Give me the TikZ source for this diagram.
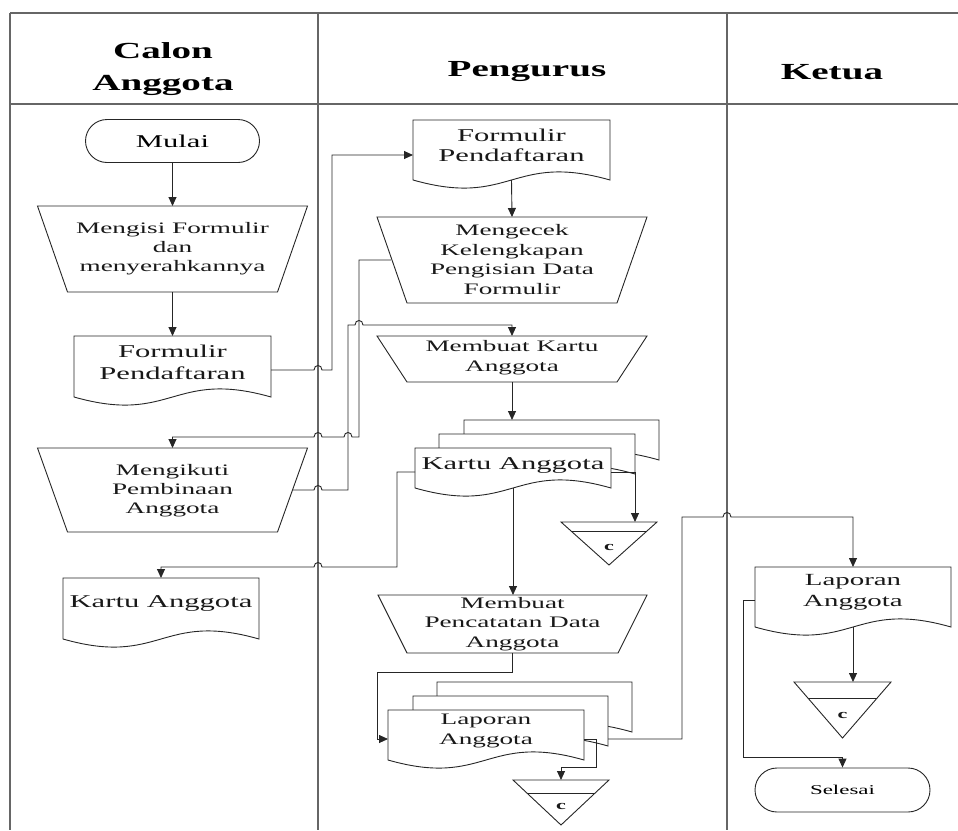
\documentclass[tikz,border=0pt]{standalone}
\usepackage{fontspec}
\setmainfont{Liberation Serif}[FakeStretch=1.7]
\usetikzlibrary{shapes.misc,arrows.meta}

\newcommand\fs[2]{\fontsize{#1}{#2}\selectfont}

% document shape: name, x1, top, x2, bottom corner
\newcommand\mkdoc[5]{%
  \path[shp] (#2,#3) -- (#4,#3) -- (#4,#5) .. controls ({(#2+#4)/2},{#5-28}) and ({(#2+#4)/2},{#5+28}) .. (#2,#5) -- cycle;
  \node[anchorbox, minimum width={#4-#2}, minimum height={#5-#3}] (#1) at ({(#2+#4)/2},{(#3+#5)/2}) {};
}
% manual operation: name, xc, top, bottom, top width, inset
\newcommand\mkmanop[6]{%
  \node[anchorbox, minimum width=#5, minimum height={#4-#3}] (#1) at (#2,{(#3+#4)/2}) {};
  \path[shp] (#1.north west) -- (#1.north east) -- ([xshift=-#6]#1.south east) -- ([xshift=#6]#1.south west) -- cycle;
}
% off-page connector: name, xc, top, apex, half width, inner line y
\newcommand\mkoff[6]{%
  \path[shp] ({#2-#5},#3) -- ({#2+#5},#3) -- (#2,#4) -- cycle;
  \draw[conn] ({#2-#5*(1-(#6-#3)/(#4-#3))},#6) -- ({#2+#5*(1-(#6-#3)/(#4-#3))},#6);
  \node[anchorbox, minimum width={2*#5}, minimum height={#4-#3}] (#1) at (#2,{(#3+#4)/2}) {};
}

\tikzset{
  frame/.style={draw=black!60, line width=1.4pt},
  shp/.style={draw=black!85, line width=0.9pt, fill=white},
  conn/.style={draw=black!85, line width=0.9pt},
  arr/.style={conn, -{Triangle[length=9pt,width=8pt]}},
  anchorbox/.style={inner sep=0pt, outer sep=0pt, draw=none, rectangle},
  txt/.style={align=center, inner sep=0pt, text=black!90},
  hdr/.style={align=center, inner sep=0pt, font=\fs{23}{32}\bfseries},
  hopr/.style args={#1/#2}{insert path={-- ({#1-4},#2) .. controls ({#1-4},{#2-6}) and ({#1+4},{#2-6}) .. ({#1+4},#2)}},
  hopl/.style args={#1/#2}{insert path={-- ({#1+4},#2) .. controls ({#1+4},{#2-6}) and ({#1-4},{#2-6}) .. ({#1-4},#2)}},
}

\begin{document}
\begin{tikzpicture}[x=1pt,y=-1pt]
\useasboundingbox (0,0) rectangle (958,830);

% frame
\draw[frame] (10,13) -- (958,13);
\draw[frame] (10,104) -- (958,104);
\draw[frame] (10,13) -- (10,830);
\draw[frame] (318,13) -- (318,830);
\draw[frame] (727,13) -- (727,830);

\node[hdr] (h1) at (163,69) {Calon\\Anggota};
\node[hdr] (h2) at (527,72) {Pengurus};
\node[hdr] (h3) at (832,72) {Ketua};

% ---- Calon Anggota lane
\node[shp, rounded rectangle, minimum width=174, minimum height=43, inner sep=0pt, font=\fs{18}{22}] (mulai) at (172.5,141) {Mulai};
\mkmanop{mg}{172.5}{206}{292}{270}{30}
\node[txt, font=\fs{16}{19}] (mg-t) at (172.5,249) {Mengisi Formulir\\dan\\menyerahkannya};
\mkdoc{f1}{74}{336}{271}{397}
\node[txt, font=\fs{18}{22}] (f1-t) at (172.5,362) {Formulir\\Pendaftaran};
\mkmanop{mi}{172.5}{448}{532}{270}{30}
\node[txt, font=\fs{16}{19}] (mi-t) at (172.5,491) {Mengikuti\\Pembinaan\\Anggota};
\mkdoc{k1}{63}{578}{259}{639}
\node[txt, font=\fs{18}{22}] (k1-t) at (161,603) {Kartu Anggota};

% ---- Pengurus lane
\mkdoc{f2}{413}{120}{610}{180}
\node[txt, font=\fs{18}{20}] (f2-t) at (511.5,145) {Formulir\\Pendaftaran};
\mkmanop{mc}{512}{217}{303}{270}{30}
\node[txt, font=\fs{16}{19.7}] (mc-t) at (512,259.5) {Mengecek\\Kelengkapan\\Pengisian Data\\Formulir};
\mkmanop{mk}{512}{336}{382}{270}{30}
\node[txt, font=\fs{16}{20}] (mk-t) at (512,358) {Membuat Kartu\\Anggota};
\mkdoc{kb}{464}{420}{659}{460}
\mkdoc{km}{439}{434}{635}{474}
\mkdoc{kf}{415}{448}{611}{488}
\node[txt, font=\fs{18}{22}] (kf-t) at (513,465) {Kartu Anggota};
\mkoff{c1}{609}{522}{565}{48}{531}
\node[txt, font=\fs{13}{15}\bfseries] (c1-t) at (609,547) {c};
\mkmanop{pc}{512.5}{595}{653}{269}{29}
\node[txt, font=\fs{16}{19.5}] (pc-t) at (512.5,624) {Membuat\\Pencatatan Data\\Anggota};
\mkdoc{lb}{437}{682}{632}{732}
\mkdoc{lm}{413}{696}{608}{746}
\mkdoc{lf}{388}{710}{584}{760}
\node[txt, font=\fs{16}{20}] (lf-t) at (486,731) {Laporan\\Anggota};
\mkoff{c2}{561}{780}{825}{48}{793}
\node[txt, font=\fs{13}{15}\bfseries] (c2-t) at (561,806) {c};

% ---- Ketua lane
\mkdoc{l3}{755}{567}{951}{627}
\node[txt, font=\fs{17}{21}] (l3-t) at (853,592.5) {Laporan\\Anggota};
\mkoff{c3}{842.5}{682}{738}{48.5}{698}
\node[txt, font=\fs{13}{15}\bfseries] (c3-t) at (842.5,715) {c};
\node[shp, rounded rectangle, minimum width=175, minimum height=44, inner sep=0pt, font=\fs{13.5}{16}] (se) at (842.5,790) {Selesai};

% ---- connectors
\draw[arr] (mulai.south) -- (mg.north);
\draw[arr] (mg.south) -- (f1.north);
\draw[arr] ([yshift=-3.5]f1.east) [hopr=318/370] -- (332,370) -- (332,155) -- ([yshift=-5]f2.west);
\draw[arr] (f2.south) -- (mc.north);
\draw[arr] ([xshift=14]mc.west) -- (359,260) -- (359,437) [hopl=348/437] [hopl=318/437] -| (mi.north);
\draw[arr] ([xshift=-15]mi.east) [hopr=318/490] -- (348,490) -- (348,325) [hopr=359/325] -| (mk.north);
\draw[arr] (mk.south) -- (mk.south |- kb.north);
\draw[arr] ([yshift=-4]kf.east) -| ([xshift=26]c1.north);
\draw[arr] ([yshift=-4]kf.west) -- (397,472) -- (397,567) [hopl=318/567] -| (k1.north);
\draw[arr] (kf.south) -- (kf.south |- pc.north);
\draw[arr] (pc.south) |- (377,672) |- ([yshift=-4]lf.west);
\draw[arr] ([yshift=-4]lf.east) -| (596,767) -| (c2.north);
\draw[arr] ([yshift=-18]lm.east) -- (682,739) -- (682,517) [hopr=727/517] -| (l3.north);
\draw[arr] (l3.south) -- (l3.south |- c3.north);
\draw[arr] ([yshift=-3]l3.west) -| (743,757) -| (se.north);
\end{tikzpicture}
\end{document}
